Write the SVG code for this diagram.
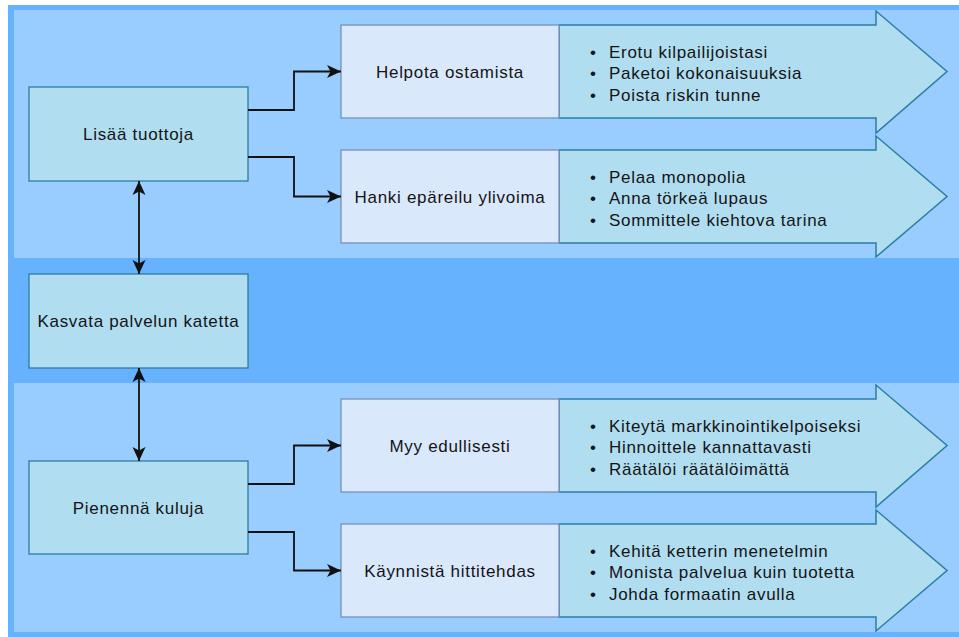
<svg xmlns="http://www.w3.org/2000/svg" width="959" height="637" viewBox="0 0 959 637">
<defs>
<style>
.txt{font-family:"Liberation Sans",Arial,sans-serif;font-size:17px;letter-spacing:0.7px;fill:#141414}
.mid{text-anchor:middle}
.node{fill:#b1ddf0;stroke:#2a7ea3;stroke-width:1.3}
.box{fill:#dae8fc;stroke:#7891b8;stroke-width:1.3}
.arr{fill:#b1ddf0;stroke:#2a7ea3;stroke-width:1.5;stroke-linejoin:miter}
.con{fill:none;stroke:#111;stroke-width:1.8}
</style>
<marker id="ah" markerUnits="userSpaceOnUse" markerWidth="16" markerHeight="14" refX="14" refY="7" orient="auto-start-reverse" viewBox="0 0 16 14">
<path d="M0,0.5 L14,7 L0,13.5 L3.5,7 Z" fill="#111"/>
</marker>
</defs>
<rect x="0" y="0" width="959" height="637" fill="#ffffff"/>
<rect x="8" y="5" width="951" height="632" fill="#66b2ff"/>
<rect x="14" y="10" width="945" height="248" fill="#99ccff"/>
<rect x="14" y="383" width="945" height="249" fill="#99ccff"/>

<g id="arrow-helpota"><path class="arr" d="M559,25 H876 V11 L947,71.5 L876,133 V118 H559 Z"/>
<text class="txt" x="590" y="57.5">•</text><text class="txt" x="609" y="57.5">Erotu kilpailijoistasi</text>
<text class="txt" x="590" y="79">•</text><text class="txt" x="609" y="79">Paketoi kokonaisuuksia</text>
<text class="txt" x="590" y="100.5">•</text><text class="txt" x="609" y="100.5">Poista riskin tunne</text></g>
<g id="arrow-hanki"><path class="arr" d="M559,150 H876 V136 L947,196.5 L876,257 V243 H559 Z"/>
<text class="txt" x="590" y="182.5">•</text><text class="txt" x="609" y="182.5">Pelaa monopolia</text>
<text class="txt" x="590" y="204">•</text><text class="txt" x="609" y="204">Anna törkeä lupaus</text>
<text class="txt" x="590" y="225.5">•</text><text class="txt" x="609" y="225.5">Sommittele kiehtova tarina</text></g>
<g id="arrow-myy"><path class="arr" d="M559,399 H876 V385 L947,445.5 L876,507 V492 H559 Z"/>
<text class="txt" x="590" y="431.5">•</text><text class="txt" x="609" y="431.5">Kiteytä markkinointikelpoiseksi</text>
<text class="txt" x="590" y="453">•</text><text class="txt" x="609" y="453">Hinnoittele kannattavasti</text>
<text class="txt" x="590" y="474.5">•</text><text class="txt" x="609" y="474.5">Räätälöi räätälöimättä</text></g>
<g id="arrow-kaynnista"><path class="arr" d="M559,524 H876 V510 L947,570.5 L876,631 V617 H559 Z"/>
<text class="txt" x="590" y="556.5">•</text><text class="txt" x="609" y="556.5">Kehitä ketterin menetelmin</text>
<text class="txt" x="590" y="578">•</text><text class="txt" x="609" y="578">Monista palvelua kuin tuotetta</text>
<text class="txt" x="590" y="599.5">•</text><text class="txt" x="609" y="599.5">Johda formaatin avulla</text></g>

<g id="box-helpota"><rect class="box" x="341" y="25" width="218" height="93"/><text class="txt mid" x="450" y="77.5">Helpota ostamista</text></g>
<g id="box-hanki"><rect class="box" x="341" y="150" width="218" height="93"/><text class="txt mid" x="450" y="202.5">Hanki epäreilu ylivoima</text></g>
<g id="box-myy"><rect class="box" x="341" y="399" width="218" height="93"/><text class="txt mid" x="450" y="451.5">Myy edullisesti</text></g>
<g id="box-kaynnista"><rect class="box" x="341" y="524" width="218" height="93"/><text class="txt mid" x="450" y="576.5">Käynnistä hittitehdas</text></g>

<g id="node-lisaa"><rect class="node" x="29" y="87" width="219" height="94"/><text class="txt mid" x="138.5" y="140">Lisää tuottoja</text></g>
<g id="node-kasvata"><rect class="node" x="29" y="274" width="219" height="94"/><text class="txt mid" x="138.5" y="327">Kasvata palvelun katetta</text></g>
<g id="node-pienenna"><rect class="node" x="29" y="461" width="219" height="93"/><text class="txt mid" x="138.5" y="513.5">Pienennä kuluja</text></g>

<g id="connectors">
<path class="con" d="M248,110 H294 V71.5 H341" marker-end="url(#ah)"/>
<path class="con" d="M248,157 H294 V196.5 H341" marker-end="url(#ah)"/>
<path class="con" d="M248,484 H294 V445.5 H341" marker-end="url(#ah)"/>
<path class="con" d="M248,532 H294 V570.5 H341" marker-end="url(#ah)"/>
<path class="con" d="M139,181 V274" marker-start="url(#ah)" marker-end="url(#ah)"/>
<path class="con" d="M139,368 V461" marker-start="url(#ah)" marker-end="url(#ah)"/>
</g>
</svg>
